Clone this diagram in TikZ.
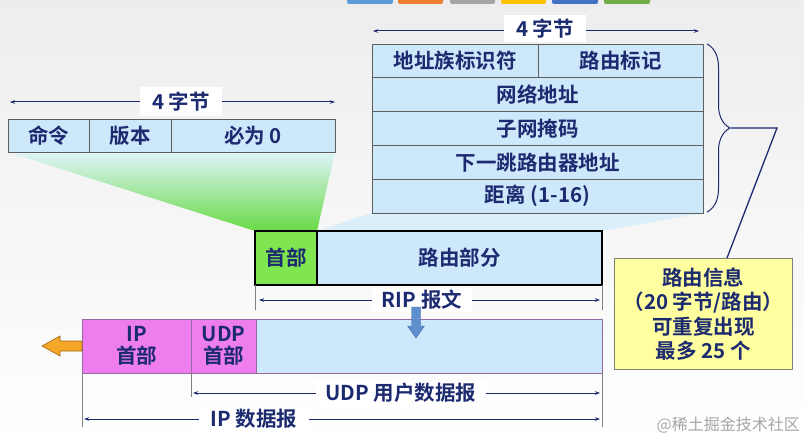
\documentclass[tikz,border=0pt]{standalone}
\usepackage{fontspec}
\setmainfont{Noto Sans CJK SC}[BoldFont={Noto Sans CJK SC Bold}]
\usetikzlibrary{arrows.meta,decorations.pathreplacing}
\definecolor{navy}{RGB}{28,42,112}
\definecolor{cellblue}{RGB}{204,232,250}
\definecolor{hdrgreen}{RGB}{128,230,80}
\definecolor{pinkhdr}{RGB}{238,125,238}
\definecolor{calloutyel}{RGB}{255,255,160}
\definecolor{arrowblue}{RGB}{95,142,205}
\definecolor{arrowblueD}{RGB}{70,110,170}
\definecolor{orangeA}{RGB}{245,168,40}
\definecolor{orangeD}{RGB}{160,100,20}
\definecolor{bordergray}{RGB}{95,95,95}
\definecolor{purpleB}{RGB}{150,105,165}
\definecolor{fanTop}{RGB}{222,244,250}
\definecolor{fanBot}{RGB}{105,218,70}
\definecolor{fanBlue}{RGB}{214,238,250}
\definecolor{wmgray}{RGB}{165,165,165}
\definecolor{tabA}{RGB}{91,155,213}
\definecolor{tabB}{RGB}{237,125,49}
\definecolor{tabC}{RGB}{165,165,165}
\definecolor{tabD}{RGB}{255,192,0}
\definecolor{tabE}{RGB}{68,114,196}
\definecolor{tabF}{RGB}{112,173,71}
\newcommand\myfnt{\bfseries\fontsize{20.5}{23}\selectfont}
\begin{document}
\begin{tikzpicture}[x=1pt,y=-1pt,
  cell/.style={draw=bordergray, fill=cellblue, line width=0.8pt, inner sep=0pt, outer sep=0pt,
    anchor=north west, font=\myfnt, text=navy},
  ripcell/.style={cell, draw=black, line width=1.2pt},
  pinkcell/.style={cell, draw=purpleB, fill=pinkhdr, align=center, font=\bfseries\fontsize{20.5}{21.5}\selectfont},
  dim/.style={draw=navy, line width=1pt, {Stealth[length=5pt,width=3.5pt]}-{Stealth[length=5pt,width=3.5pt]}},
  dimlabel/.style={fill=white, inner sep=2pt, font=\myfnt, text=navy},
  tick/.style={draw=gray, line width=0.7pt},
  tab/.style={rounded corners=2pt, draw=none}
]
\useasboundingbox (0,0) rectangle (804,441);
% background
\shade[top color=black!7, bottom color=white] (0,0) rectangle (804,441);
% top tabs
\fill[tab, fill=tabA] (347,-4) rectangle (393,4);
\fill[tab, fill=tabB] (398,-4) rectangle (443,4);
\fill[tab, fill=tabC] (450,-4) rectangle (495,4);
\fill[tab, fill=tabD] (501,-4) rectangle (546,4);
\fill[tab, fill=tabE] (552,-4) rectangle (598,4);
\fill[tab, fill=tabF] (604,-4) rectangle (650,4);

% fans
\shade[top color=fanTop, bottom color=fanBot]
  (8,152) -- (335,152) -- (317,231) -- (255,231) -- cycle;
\fill[fanBlue, opacity=0.85]
  (317,231) -- (372,213) -- (703,213) -- (602,231) -- cycle;

% top-left header table
\node[cell, minimum width=81pt, minimum height=33pt] (cmd) at (8,119) {命令};
\node[cell, minimum width=82pt, minimum height=33pt] (ver) at (89,119) {版本};
\node[cell, minimum width=164pt, minimum height=33pt] (zero) at (171,119) {必为 0};
\coordinate (tlL) at (10,102);
\coordinate (tlR) at (335,102);
\draw[dim] (tlL) -- (tlR);
\node[dimlabel, minimum width=82pt, minimum height=29pt] (tlLab) at (181,102) {4 字节};

% top-right routing entry table
\node[cell, minimum width=166pt, minimum height=33.8pt] (afi) at (372,44) {地址族标识符};
\node[cell, minimum width=165pt, minimum height=33.8pt] (rtag) at (538,44) {路由标记};
\node[cell, minimum width=331pt, minimum height=33.8pt] (net) at (372,77.8) {网络地址};
\node[cell, minimum width=331pt, minimum height=33.8pt] (mask) at (372,111.6) {子网掩码};
\node[cell, minimum width=331pt, minimum height=33.8pt] (nhop) at (372,145.4) {下一跳路由器地址};
\node[cell, minimum width=331pt, minimum height=33.8pt] (dist) at (372,179.2) {距离 (1-16)};
\coordinate (trL) at (373,31);
\coordinate (trR) at (699,31);
\draw[dim] (trL) -- (trR);
\node[dimlabel, minimum width=82pt, minimum height=27pt] (trLab) at (545,28.5) {4 字节};

% brace and leader line
\draw[navy, line width=1pt, decorate, decoration={brace, amplitude=23pt}] (707,44) -- (707,212);
\coordinate (bt) at (731,128);
\coordinate (bend) at (777,128);
\coordinate (cl) at (727,258);
\draw[navy, line width=1.3pt] (bt) -- (bend) -- (cl);

% callout
\node[draw=gray, fill=calloutyel, line width=0.8pt, anchor=north west, minimum width=178pt, minimum height=111pt,
  inner sep=0pt, align=center, text=navy, font=\bfseries\fontsize{20.5}{24.5}\selectfont] (info) at (614,258)
  {路由信息\\（20 字节/路由）\\可重复出现\\最多 25 个};

% RIP message
\node[ripcell, fill=hdrgreen, minimum width=62pt, minimum height=54pt] (riphdr) at (255,231) {首部};
\node[ripcell, minimum width=285pt, minimum height=54pt] (route) at (317,231) {路由部分};
\coordinate (ripTL) at (255,310);
\coordinate (ripTR) at (602,310);
\draw[tick] (riphdr.south west) -- (ripTL);
\draw[tick] (route.south east) -- (ripTR);
\coordinate (ripL) at (259,300);
\coordinate (ripR) at (600,300);
\draw[dim] (ripL) -- (ripR);
\node[dimlabel, minimum width=100pt] (ripLab) at (422,300) {RIP 报文};

% IP datagram
\node[pinkcell, minimum width=109pt, minimum height=54pt] (iphdr) at (82,319) {IP\\首部};
\node[pinkcell, minimum width=65pt, minimum height=54pt] (udphdr) at (191,319) {UDP\\首部};
\node[cell, draw=purpleB, minimum width=346pt, minimum height=54pt] (data) at (256,319) {};

% blue down arrow
\fill[arrowblue, draw=arrowblueD, line width=0.4pt]
  (411.5,307) -- (420.5,307) -- (420.5,326) -- (424.5,326) -- (416,338) -- (407.5,326) -- (411.5,326) -- cycle;

% orange left arrow
\fill[orangeA, draw=orangeD, line width=0.6pt]
  (42,346) -- (60,336) -- (60,341) -- (82,341) -- (82,351) -- (60,351) -- (60,356) -- cycle;

% UDP / IP dimension lines
\coordinate (udpT) at (191,397);
\coordinate (ipT) at (82,427);
\coordinate (rT) at (602,427);
\draw[tick] (udphdr.south west) -- (udpT);
\draw[tick] (iphdr.south west) -- (ipT);
\draw[tick] (data.south east) -- (rT);
\coordinate (udpL) at (193,393);
\coordinate (udpR) at (600,393);
\draw[dim] (udpL) -- (udpR);
\node[dimlabel, minimum width=170pt] (udpLab) at (401,393) {UDP 用户数据报};
\coordinate (ipL) at (84,419);
\coordinate (ipR) at (600,419);
\draw[dim] (ipL) -- (ipR);
\node[dimlabel, minimum width=110pt] (ipLab) at (254,419) {IP 数据报};

% watermark
\node[anchor=east, text=wmgray, font=\fontsize{16}{18}\selectfont, inner sep=0pt] (wm) at (800,425) {@稀土掘金技术社区};
\end{tikzpicture}
\end{document}
